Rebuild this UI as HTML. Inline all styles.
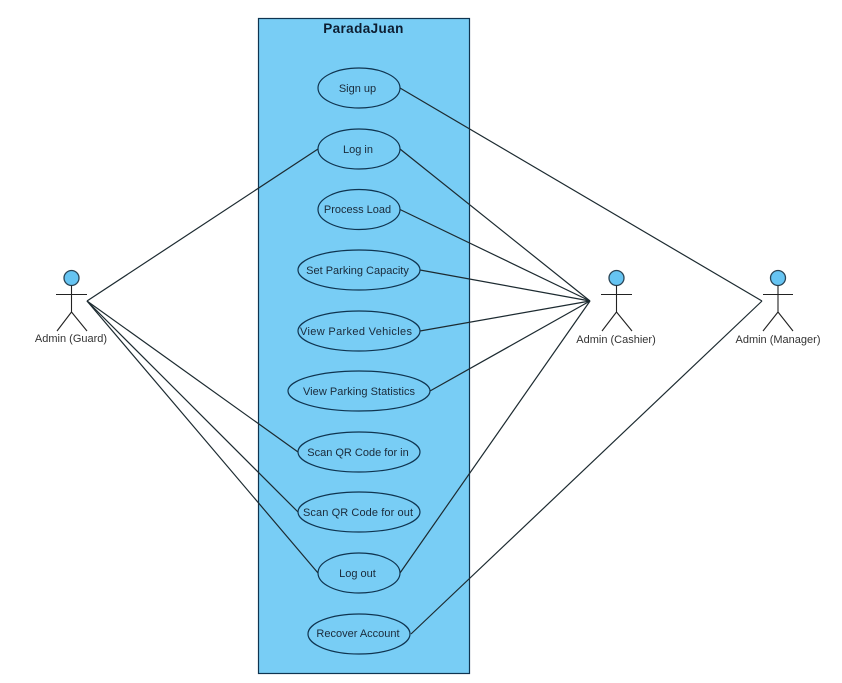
<!DOCTYPE html>
<html>
<head>
<meta charset="utf-8">
<style>
html,body{margin:0;padding:0;background:#fff;width:842px;height:683px;overflow:hidden}
svg{display:block;filter:blur(0.3px)}
text{font-family:"Liberation Sans",sans-serif;font-size:11px;fill:#1a2a3a;text-anchor:middle}
.u{fill:#78cdf5;stroke:#0f3450;stroke-width:1.2}
.c{stroke:#1c2a30;stroke-width:1.2;fill:none}
.a{stroke:#222;stroke-width:1.1;fill:none}
.h{fill:#66c4f2;stroke:#2a4455;stroke-width:1.3}
.l{fill:#333}
</style>
</head>
<body>
<svg width="842" height="683" viewBox="0 0 842 683" xmlns="http://www.w3.org/2000/svg">
<rect x="258.500" y="18.500" width="211" height="655" fill="#78cdf5" stroke="#0f3450" stroke-width="1.2"/>
<text x="363.500" y="33" style="font-size:13.500px;font-weight:bold;fill:#0c1c30;letter-spacing:0.4px">ParadaJuan</text>

<g class="c">
<line x1="87" y1="301" x2="318" y2="149"/>
<line x1="87" y1="301" x2="298" y2="452"/>
<line x1="87" y1="301" x2="298" y2="512"/>
<line x1="87" y1="301" x2="318" y2="573"/>
<line x1="400" y1="149" x2="590" y2="301"/>
<line x1="400" y1="209.500" x2="590" y2="301"/>
<line x1="420" y1="270" x2="590" y2="301"/>
<line x1="420" y1="331" x2="590" y2="301"/>
<line x1="430" y1="391" x2="590" y2="301"/>
<line x1="400" y1="573" x2="590" y2="301"/>
<line x1="400" y1="88" x2="762" y2="301"/>
<line x1="411" y1="634" x2="762" y2="301"/>
</g>

<ellipse class="u" cx="359" cy="88" rx="41" ry="20"/>
<ellipse class="u" cx="359" cy="149" rx="41" ry="20"/>
<ellipse class="u" cx="359" cy="209.500" rx="41" ry="20"/>
<ellipse class="u" cx="359" cy="270" rx="61" ry="20"/>
<ellipse class="u" cx="359" cy="331" rx="61" ry="20"/>
<ellipse class="u" cx="359" cy="391" rx="71" ry="20"/>
<ellipse class="u" cx="359" cy="452" rx="61" ry="20"/>
<ellipse class="u" cx="359" cy="512" rx="61" ry="20"/>
<ellipse class="u" cx="359" cy="573" rx="41" ry="20"/>
<ellipse class="u" cx="359" cy="634" rx="51" ry="20"/>

<text x="357.500" y="92">Sign up</text>
<text x="358" y="153">Log in</text>
<text x="357.500" y="213">Process Load</text>
<text x="357.500" y="274">Set Parking Capacity</text>
<text x="356" y="335" textLength="112" lengthAdjust="spacing">View Parked Vehicles</text>
<text x="359" y="395" textLength="112" lengthAdjust="spacing">View Parking Statistics</text>
<text x="358" y="456">Scan QR Code for in</text>
<text x="358" y="516" textLength="110" lengthAdjust="spacing">Scan QR Code for out</text>
<text x="357.500" y="577">Log out</text>
<text x="358" y="637">Recover Account</text>

<circle class="h" cx="71.500" cy="278" r="7.500"/>
<path class="a" d="M56 294.500H87M71.500 285.500V312M71.500 312L57 331M71.500 312L87 331"/>
<circle class="h" cx="616.500" cy="278" r="7.500"/>
<path class="a" d="M601 294.500H632M616.500 285.500V312M616.500 312L602 331M616.500 312L632 331"/>
<circle class="h" cx="778" cy="278" r="7.500"/>
<path class="a" d="M763 294.500H793M778 285.500V312M778 312L763 331M778 312L793 331"/>

<text class="l" x="71" y="342">Admin (Guard)</text>
<text class="l" x="616" y="343">Admin (Cashier)</text>
<text class="l" x="778" y="343">Admin (Manager)</text>
</svg>
</body>
</html>
